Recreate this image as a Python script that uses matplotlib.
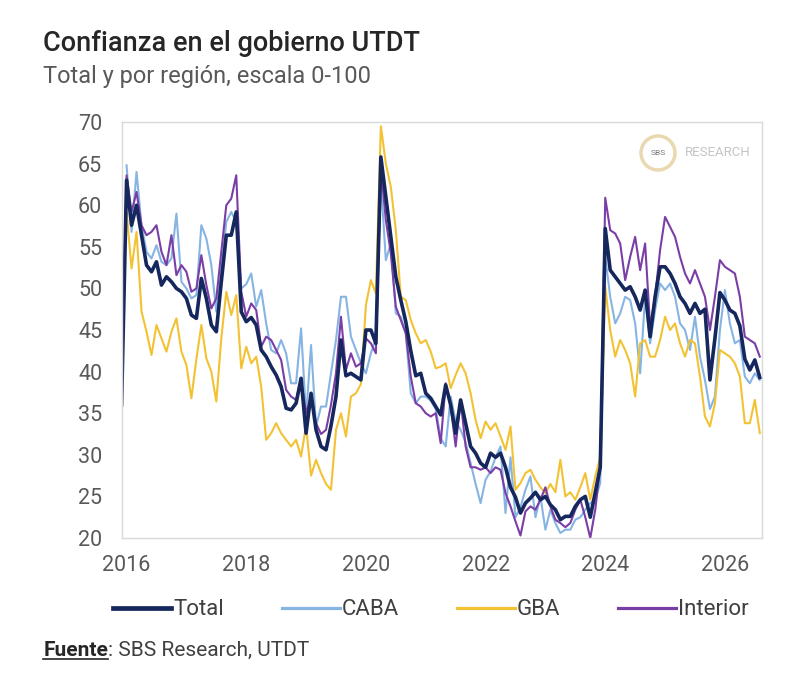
import numpy as np
import pandas as pd
import matplotlib
matplotlib.use("Agg")
import matplotlib.pyplot as plt
from matplotlib.patches import Ellipse
from matplotlib.lines import Line2D

plt.rcParams['font.family'] = ['Roboto', 'DejaVu Sans']

# monthly, Dec 2015 .. Aug 2026
months = pd.date_range("2015-12-01", "2026-08-01", freq="MS")
years = np.asarray(months.year + (months.month - 1) / 12)

total = ([36]
         + [63, 57.6, 60, 56.4, 52.8, 52, 53.2, 50.4, 51.4, 50.8, 50, 49.6]
         + [48.8, 46.8, 46.4, 51.2, 48.8, 45.6, 44.8, 50.8, 56.4, 56.4, 59.2, 47.2]
         + [46, 46.5, 45.6, 42.6, 41.8, 40.6, 39.6, 38.2, 35.6, 35.4, 36.2, 39.2]
         + [32.6, 37.4, 33, 31, 30.6, 33.5, 37, 43.8, 39.5, 39.8, 39.4, 39]
         + [45, 45, 43.4, 65.8, 61, 56.2, 51.4, 48.6, 46, 42.5, 39.5, 39.8]
         + [37.4, 36.8, 35.8, 34.8, 38.4, 36, 32.6, 36.6, 33.8, 31, 30.2, 29]
         + [28.5, 30.2, 29.7, 30.2, 28.5, 26.1, 24.9, 23, 24.2, 24.8, 25.5, 24.6]
         + [25, 24, 23.4, 22.2, 22.6, 22.6, 23.8, 24.6, 25, 22.5, 25.5, 28.5]
         + [57.2, 52.2, 51.4, 50.6, 49.8, 50.2, 49, 47.4, 49.8, 44.2, 49, 52.6]
         + [52.6, 51.8, 50.6, 49, 48.2, 47, 48.2, 47, 47.5, 39, 44, 49.5]
         + [48.6, 47.4, 47, 45.5, 41.5, 40.2, 41.4, 39.3])

caba = ([np.nan]
        + [64.8, 56.8, 64, 57.6, 54.4, 53.6, 55.2, 53.2, 52.8, 53.6, 59, 50.8]
        + [50, 48.8, 49.2, 57.6, 56, 52.8, 47.2, 52.4, 58, 59.2, 58, 50]
        + [50.5, 51.8, 47.8, 49.8, 45.8, 42.6, 42.2, 43.8, 42.2, 38.6, 38.6, 45.2]
        + [34.6, 43.2, 33.4, 35.8, 35.8, 39.8, 43.8, 49, 49, 44.2, 42.6, 41]
        + [39.8, 42.2, 44, 63, 53.4, 55.4, 47, 46.6, 44.6, 37.4, 36.2, 37]
        + [37, 36.5, 35.5, 32, 31, 37, 34, 33, 31.5, 29, 26.5, 24.2]
        + [27, 28, 29.7, 31, 23, 29.7, 22.5, 23.7, 25.8, 27.4, 22.5, 25]
        + [21, 23.4, 21.8, 20.6, 21, 21, 22.2, 22.5, 23.4, 24.2, 24.6, 26.6]
        + [53.8, 49, 45.8, 47, 49, 48.6, 45.8, 39.8, 49, 43.4, 47.4, 50.6]
        + [49.8, 50.6, 49, 45.8, 45, 42.6, 46.6, 41.8, 39, 35.5, 37, 45]
        + [49.8, 45.8, 43.4, 43.8, 39.4, 38.6, 39.8, 39])

gba = ([np.nan]
       + [59.2, 52.4, 56.8, 47.2, 44.8, 42, 45.6, 44, 42.4, 44.8, 46.4, 42.4]
       + [40.8, 36.8, 41.5, 45.6, 41.6, 40, 36.4, 44, 49.6, 46.8, 49.2, 40.4]
       + [43, 41, 41.8, 38.2, 31.8, 32.6, 33.8, 32.6, 31.8, 31, 31.8, 29.8]
       + [33.5, 27.5, 29.4, 27.8, 26.5, 25.8, 33, 35, 32.2, 37, 37.4, 38.5]
       + [48, 51, 49.4, 69.5, 65, 62.2, 57, 49, 48.6, 46.2, 44.6, 43.4]
       + [43.8, 42.4, 40.4, 40.6, 41, 38, 39.6, 41, 39.8, 37.4, 34.2, 32]
       + [34, 33, 33.8, 32.2, 30.6, 33.4, 25.8, 26.6, 27.8, 28.2, 27, 26.1]
       + [25.4, 26.5, 25.5, 29.4, 25, 25.5, 24.6, 26.1, 27.8, 24.6, 27.4, 29.7]
       + [50.2, 45, 41.8, 43.8, 42.6, 41, 37, 43.4, 43.8, 41.8, 41.8, 43.8]
       + [46.6, 45, 45.8, 43.4, 41.8, 43.8, 43.4, 39.4, 34.6, 33.4, 36.2, 42.6]
       + [42.2, 41.8, 41, 39.4, 33.8, 33.8, 36.6, 32.6])

interior = ([37]
            + [63.6, 59.2, 61.6, 57.6, 56.4, 56.8, 57.6, 54.4, 52.8, 56.4, 51.6, 52.8]
            + [52, 49.6, 50, 54, 50.4, 47.6, 48.8, 54.4, 60, 60.8, 63.6, 49.6]
            + [46.6, 48.2, 47.4, 43, 44.2, 43.8, 42.6, 41.4, 37.8, 37, 36.6, 39]
            + [35, 37, 33.8, 32.5, 33, 36, 39.8, 46.6, 40.2, 42.2, 40.6, 41]
            + [44, 43.4, 42.2, 64.6, 58.2, 54.2, 47.8, 46.2, 44.6, 39.4, 36.2, 35.8]
            + [35, 34.6, 35, 31.4, 38.6, 35.8, 31, 36.6, 31, 28.5, 28.5, 28.2]
            + [28.5, 27.8, 28.5, 28.2, 25.4, 23.8, 22, 20.3, 23.2, 23.8, 23.4, 24.6]
            + [26.1, 23.8, 22.2, 21.8, 21.3, 21.8, 23.4, 24.6, 22.5, 20, 23.4, 28.6]
            + [60.9, 57, 56.6, 55.4, 51, 53.8, 56.2, 52.2, 55.4, 45.4, 49, 54.6]
            + [58.6, 57.4, 56.2, 53.8, 51.8, 50.6, 52.2, 50.6, 49, 45, 49, 53.4]
            + [52.6, 52.2, 51.8, 49, 44.2, 43.8, 43.4, 41.8])

series_names = ["Total", "CABA", "GBA", "Interior"]
colors = {"Total": "#15275c", "CABA": "#86b4e3", "GBA": "#f3c233", "Interior": "#7a3ea6"}
widths = {"Total": 2.6, "CABA": 1.5, "GBA": 1.5, "Interior": 1.5}
data = {"Total": total, "CABA": caba, "GBA": gba, "Interior": interior}

year_ticks = [2016, 2018, 2020, 2022, 2024, 2026]

fig = plt.figure(figsize=(8, 6.83), dpi=100)
ax = fig.add_axes([0.152, 0.2123, 0.8005, 0.609])

# draw regions first, total on top
for name in ["CABA", "GBA", "Interior", "Total"]:
    ax.plot(years, data[name], color=colors[name], lw=widths[name],
            solid_joinstyle='round')

ax.set_xlim(2015.917, 2026.62)
ax.set_ylim(20, 70)
ax.set_xticks(year_ticks)
ax.set_xticklabels([str(y) for y in year_ticks])
ax.set_yticks(range(20, 71, 5))
ax.tick_params(length=0, labelsize=15.5, colors='#595959')
ax.tick_params(axis='y', pad=14)
ax.tick_params(axis='x', pad=12)
for sp in ax.spines.values():
    sp.set_color('#d9d9d9')
    sp.set_linewidth(1)

# watermark logo
fig.add_artist(Ellipse((0.8225, 0.776), 34 / 800, 34 / 683, transform=fig.transFigure,
                       fill=False, edgecolor='#e9d8b0', lw=2.5))
fig.text(0.8225, 0.776, "SBS", fontsize=6, color='#7a7a7a', ha='center', va='center')
fig.text(0.856, 0.776, "RESEARCH", fontsize=9.5, color='#c4c4c4', ha='left', va='center')

fig.text(0.054, 0.926, "Confianza en el gobierno UTDT", fontsize=19.5, fontweight='medium',
         color='#262626')
fig.text(0.054, 0.879, "Total y por región, escala 0-100", fontsize=17, color='#595959')

handles = [Line2D([], [], color=colors[n], lw=widths[n] + 0.8) for n in series_names]
leg = fig.legend(handles, series_names, loc='center', bbox_to_anchor=(0.539, 0.107), ncol=4,
                 frameon=False, handlelength=2.6, handletextpad=0.1, columnspacing=2.6,
                 fontsize=16)
for t in leg.get_texts():
    t.set_color('#404040')

# source line, "Fuente" underlined
src = fig.text(0.054, 0.040, "Fuente", fontsize=15, fontweight='bold', color='#262626')
fig.canvas.draw()
bb = src.get_window_extent().transformed(fig.transFigure.inverted())
fig.add_artist(Line2D([bb.x0, bb.x1], [bb.y0 + 0.001, bb.y0 + 0.001], color='#262626',
                      lw=1.2, transform=fig.transFigure))
fig.text(bb.x1, 0.040, ": SBS Research, UTDT", fontsize=15, color='#404040')

fig.savefig("out.png", dpi=100)
